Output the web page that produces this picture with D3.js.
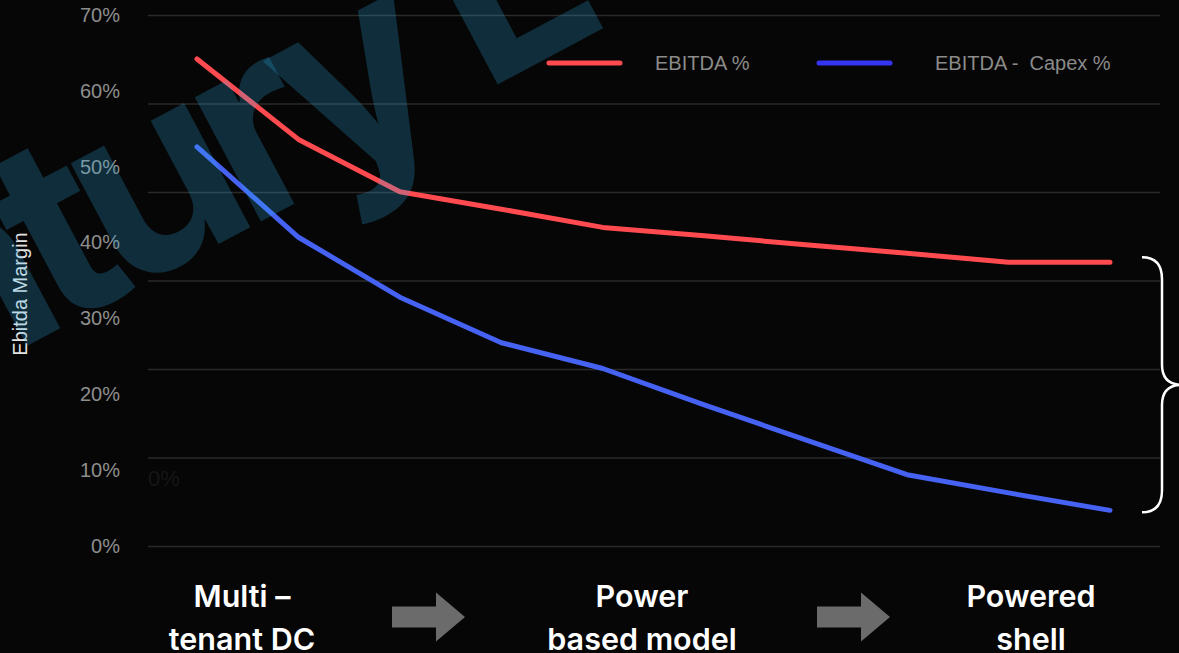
<!DOCTYPE html>
<html>
<head>
<meta charset="utf-8">
<script src="https://cdn.jsdelivr.net/npm/d3@7"></script>
<style>
  html, body { margin: 0; padding: 0; background: #060606; overflow: hidden; }
  .tick line { stroke: #2a2a2a; stroke-width: 1.5; }
  .grid .domain, .yaxis .domain { display: none; }
</style>
</head>
<body>
<div id="chart"></div>
<script>
// chart values
var steps = [1, 2, 3, 4, 5, 6, 7, 8, 9, 10];
var ebitda = [64.2, 53.6, 46.7, 44.4, 42.0, 40.9, 39.7, 38.6, 37.4, 37.4];
var ebitdaCapex = [52.6, 40.7, 32.8, 26.8, 23.4, 18.6, 14.0, 9.4, 7.0, 4.7];
var yTicks = [0, 10, 20, 30, 40, 50, 60, 70];
var gridSteps = [0, 1, 2, 3, 4, 5, 6];
var seriesNames = ["EBITDA %", "EBITDA -  Capex %"];
var seriesColors = ["#ff4a4f", "#4562f2"];
var legendColors = ["#ff4a4f", "#3434f2"];
var stages = [["Multi \u2013", "tenant DC"], ["Power", "based model"], ["Powered", "shell"]];

var width = 1179, height = 653;

var svg = d3.select("#chart").append("svg")
  .attr("width", width).attr("height", height);

svg.append("rect").attr("width", width).attr("height", height).attr("fill", "#060606");

var x = d3.scalePoint().domain(steps).range([197, 1110]);
var y = d3.scaleLinear().domain([0, 70]).range([546, 15]);
// gridlines on the slide don't line up with the labels: 6 even bands
var yGrid = d3.scaleLinear().domain([0, 6]).range([546, 15]);

svg.append("g").attr("class", "grid")
  .attr("transform", "translate(148,0)")
  .call(d3.axisLeft(yGrid).tickValues(gridSteps).tickSize(-(1160 - 148)).tickFormat(""))
  .selectAll(".tick line")
  .attr("stroke", function(d) { return d === 6 ? "#3a3a3a" : "#2a2a2a"; });

var yAxis = svg.append("g").attr("class", "yaxis")
  .attr("transform", "translate(120,0)")
  .call(d3.axisLeft(y).tickValues(yTicks).tickSize(0).tickPadding(0).tickFormat(function(d) { return d + "%"; }));
yAxis.selectAll("text")
  .attr("fill", "#8e8e8e")
  .style("font-family", "'Liberation Sans', Arial, sans-serif")
  .style("font-size", "20px");

// stray label left on the slide
svg.append("text")
  .attr("x", 148).attr("y", 486)
  .attr("fill", "#161616")
  .style("font-family", "'Liberation Sans', Arial, sans-serif")
  .style("font-size", "22px")
  .text("0%");

svg.append("text")
  .attr("transform", "translate(27,294) rotate(-90)")
  .attr("text-anchor", "middle")
  .attr("fill", "#e2e2e2")
  .style("font-family", "'Liberation Sans', Arial, sans-serif")
  .style("font-size", "20px")
  .text("Ebitda Margin");

var line = d3.line()
  .x(function(d, i) { return x(steps[i]); })
  .y(function(d) { return y(d); });

[ebitda, ebitdaCapex].forEach(function(series, k) {
  svg.append("path")
    .datum(series)
    .attr("d", line)
    .attr("fill", "none")
    .attr("stroke", seriesColors[k])
    .attr("stroke-width", 5)
    .attr("stroke-linecap", "round")
    .attr("stroke-linejoin", "round");
});

// legend
var legendX = [549, 819];
var legend = svg.append("g").selectAll("g").data(seriesNames).enter().append("g")
  .attr("transform", function(d, i) { return "translate(" + legendX[i] + ",63)"; });
legend.append("line")
  .attr("x1", 0).attr("x2", 71).attr("y1", 0).attr("y2", 0)
  .attr("stroke", function(d, i) { return legendColors[i]; })
  .attr("stroke-width", 5).attr("stroke-linecap", "round");
legend.append("text")
  .attr("x", function(d, i) { return i === 0 ? 106 : 116; })
  .attr("y", 7)
  .attr("fill", "#8b8b8b")
  .style("font-family", "'Liberation Sans', Arial, sans-serif")
  .style("font-size", "20px")
  .style("white-space", "pre")
  .text(function(d) { return d; });

// brace between the two end points
var bTop = y(ebitda[ebitda.length - 1]) - 5;
var bBot = y(ebitdaCapex[ebitdaCapex.length - 1]) + 2;
var bMid = (bTop + bBot) / 2;
svg.append("path")
  .attr("d", "M1142," + bTop + " Q1162," + bTop + " 1162," + (bTop + 22) +
    " L1162," + (bMid - 20) + " Q1162," + bMid + " 1182," + bMid +
    " Q1162," + bMid + " 1162," + (bMid + 20) +
    " L1162," + (bBot - 22) + " Q1162," + bBot + " 1142," + bBot)
  .attr("fill", "none")
  .attr("stroke", "#ffffff")
  .attr("stroke-width", 2.5);

// stage labels + arrows along the bottom
var stageX = d3.scaleOrdinal().domain([0, 1, 2]).range([242, 642, 1031]);
var arrowX = [429, 854];

var st = svg.append("g").selectAll("text").data(stages).enter().append("text")
  .attr("text-anchor", "middle")
  .attr("fill", "#ffffff")
  .style("font-family", "Inter, 'Noto Sans', sans-serif")
  .style("font-weight", 600)
  .style("font-size", "30.5px");
st.append("tspan").attr("x", function(d, i) { return stageX(i); }).attr("y", 607).text(function(d) { return d[0]; });
st.append("tspan").attr("x", function(d, i) { return stageX(i); }).attr("y", 650).text(function(d) { return d[1]; });

svg.append("g").selectAll("path").data(arrowX).enter().append("path")
  .attr("transform", function(d) { return "translate(" + d + ",617)"; })
  .attr("d", "M-37,-10.5 L7,-10.5 L7,-24.5 L36,0 L7,24.5 L7,10.5 L-37,10.5 Z")
  .attr("fill", "#6b6b6b");

// watermark sits over everything in the plot
var wm = svg.append("text")
  .attr("transform", "translate(600,30) rotate(-28)")
  .attr("text-anchor", "end")
  .attr("fill", "rgb(50,185,245)")
  .attr("fill-opacity", 0.22)
  .style("font-family", "Inter, 'Noto Sans', sans-serif")
  .style("font-weight", 700)
  .style("font-size", "258px")
  .style("letter-spacing", "-20px");
wm.append("tspan").attr("dx", -7).attr("dy", 10).text("Century");
wm.append("tspan").attr("dx", 7).attr("dy", -10).text(" L");
</script>
</body>
</html>
